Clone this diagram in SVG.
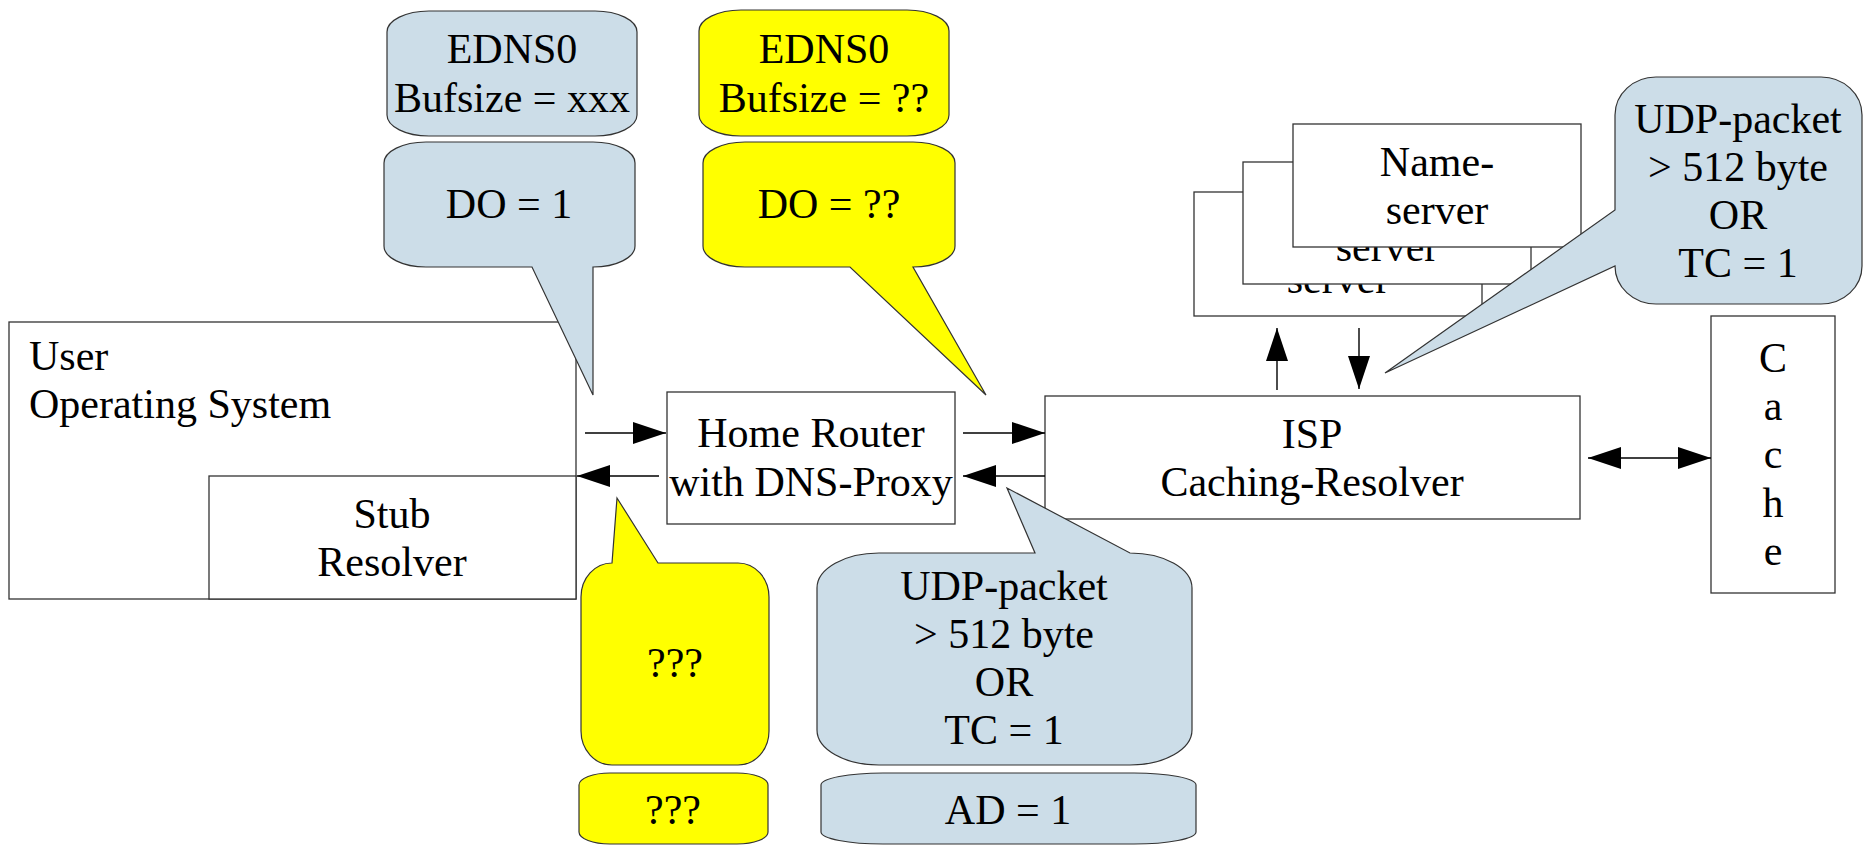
<svg xmlns="http://www.w3.org/2000/svg" width="1867" height="845" viewBox="0 0 1867 845">
<defs>
<style>
.box{fill:#ffffff;stroke:#333333;stroke-width:1.3}
.blue{fill:#ccdde8;stroke:#333333;stroke-width:1.2}
.yel{fill:#ffff00;stroke:#333333;stroke-width:1.2}
.t{font-family:"Liberation Serif","Times New Roman",serif;font-size:42px;fill:#000000}
.c{text-anchor:middle}
.ln{stroke:#000000;stroke-width:1.4;fill:none}
</style>
<marker id="ah" viewBox="0 0 33 22" refX="33" refY="11" markerWidth="33" markerHeight="22" markerUnits="userSpaceOnUse" orient="auto-start-reverse">
<path d="M0,0 L33,11 L0,22 Z" fill="#000000"/>
</marker>
</defs>
<rect width="1867" height="845" fill="#ffffff"/>

<g id="user-os">
<rect class="box" x="9" y="322" width="567" height="277"/>
<text class="t" x="29" y="370">User</text>
<text class="t" x="29" y="418">Operating System</text>
</g>
<g id="stub-resolver">
<rect class="box" x="209" y="476" width="367" height="123"/>
<text class="t c" x="392" y="528">Stub</text>
<text class="t c" x="392" y="576">Resolver</text>
</g>
<g id="home-router">
<rect class="box" x="667" y="392" width="288" height="132"/>
<text class="t c" x="811" y="447">Home Router</text>
<text class="t c" x="811" y="496">with DNS-Proxy</text>
</g>
<g id="isp-resolver">
<rect class="box" x="1045" y="396" width="535" height="123"/>
<text class="t c" x="1312" y="448">ISP</text>
<text class="t c" x="1312" y="496">Caching-Resolver</text>
</g>
<g id="nameserver-3">
<rect class="box" x="1194" y="192" width="288" height="124"/>
<text class="t c" x="1338" y="293">server</text>
</g>
<g id="nameserver-2">
<rect class="box" x="1243" y="162" width="288" height="122"/>
<text class="t c" x="1387" y="261">server</text>
</g>
<g id="nameserver-1">
<rect class="box" x="1293" y="124" width="288" height="123"/>
<text class="t c" x="1437" y="176">Name-</text>
<text class="t c" x="1437" y="224">server</text>
</g>
<g id="cache">
<rect class="box" x="1711" y="316" width="124" height="277"/>
<text class="t c" x="1773" y="372">C</text>
<text class="t c" x="1773" y="420">a</text>
<text class="t c" x="1773" y="468">c</text>
<text class="t c" x="1773" y="517">h</text>
<text class="t c" x="1773" y="565">e</text>
</g>

<g id="connectors">
<line class="ln" x1="585" y1="433" x2="666" y2="433" marker-end="url(#ah)"/>
<line class="ln" x1="659" y1="476" x2="577" y2="476" marker-end="url(#ah)"/>
<line class="ln" x1="963" y1="433" x2="1045" y2="433" marker-end="url(#ah)"/>
<line class="ln" x1="1045" y1="476" x2="963" y2="476" marker-end="url(#ah)"/>
<line class="ln" x1="1277" y1="390" x2="1277" y2="328" marker-end="url(#ah)"/>
<line class="ln" x1="1359" y1="328" x2="1359" y2="389" marker-end="url(#ah)"/>
<line class="ln" x1="1588" y1="458" x2="1711" y2="458" marker-start="url(#ah)" marker-end="url(#ah)"/>
</g>

<g id="callout-edns-blue">
<rect class="blue" x="387" y="11" width="250" height="125" rx="42" ry="21"/>
<text class="t c" x="512" y="63">EDNS0</text>
<text class="t c" x="512" y="112">Bufsize = xxx</text>
</g>
<g id="callout-do-blue">
<path class="blue" d="M426,142 H593 A42,21 0 0 1 635,163 V246 A42,21 0 0 1 593,267 L593,395 L532,267 H426 A42,21 0 0 1 384,246 V163 A42,21 0 0 1 426,142 Z"/>
<text class="t c" x="509" y="218">DO = 1</text>
</g>
<g id="callout-edns-yellow">
<rect class="yel" x="699" y="10" width="250" height="126" rx="42" ry="21"/>
<text class="t c" x="824" y="63">EDNS0</text>
<text class="t c" x="824" y="112">Bufsize = ??</text>
</g>
<g id="callout-do-yellow">
<path class="yel" d="M745,142 H913 A42,21 0 0 1 955,163 V246 A42,21 0 0 1 913,267 L986,395 L850,267 H745 A42,21 0 0 1 703,246 V163 A42,21 0 0 1 745,142 Z"/>
<text class="t c" x="829" y="218">DO = ??</text>
</g>
<g id="callout-udp-top">
<path class="blue" d="M1656,77 H1821 A41,38 0 0 1 1862,115 V266 A41,38 0 0 1 1821,304 H1656 A41,38 0 0 1 1615,266 L1385,373 L1615,210 V115 A41,38 0 0 1 1656,77 Z"/>
<text class="t c" x="1738" y="133">UDP-packet</text>
<text class="t c" x="1738" y="181">&gt; 512 byte</text>
<text class="t c" x="1738" y="229">OR</text>
<text class="t c" x="1738" y="277">TC = 1</text>
</g>
<g id="callout-q-yellow">
<path class="yel" d="M612,563 L617,498 L658,563 H738 A31,34 0 0 1 769,597 V731 A31,34 0 0 1 738,765 H612 A31,34 0 0 1 581,731 V597 A31,34 0 0 1 612,563 Z"/>
<text class="t c" x="675" y="677">???</text>
</g>
<g id="callout-udp-bottom">
<path class="blue" d="M879,553 H1035 L1007,488 L1130,553 A62,35 0 0 1 1192,588 V730 A62,35 0 0 1 1130,765 H879 A62,35 0 0 1 817,730 V588 A62,35 0 0 1 879,553 Z"/>
<text class="t c" x="1004" y="600">UDP-packet</text>
<text class="t c" x="1004" y="648">&gt; 512 byte</text>
<text class="t c" x="1004" y="696">OR</text>
<text class="t c" x="1004" y="744">TC = 1</text>
</g>
<g id="box-q-yellow">
<rect class="yel" x="579" y="773" width="189" height="71" rx="31" ry="12"/>
<text class="t c" x="673" y="824">???</text>
</g>
<g id="box-ad-blue">
<rect class="blue" x="821" y="773" width="375" height="71" rx="62" ry="12"/>
<text class="t c" x="1008" y="824">AD = 1</text>
</g>
</svg>
